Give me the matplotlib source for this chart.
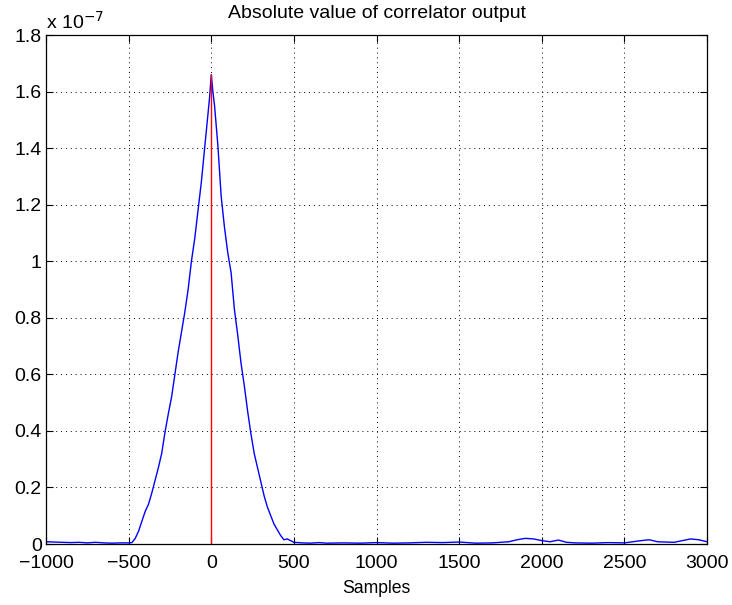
import matplotlib
matplotlib.use("Agg")
import matplotlib.pyplot as plt
from matplotlib.ticker import FuncFormatter

plt.rcParams['font.family'] = ['Liberation Sans', 'DejaVu Sans']

SCALE = 1e-7

# correlator magnitude (in units of 1e-7) versus sample lag
lags = [-1000, -950, -900, -850, -800, -750, -700, -650, -600, -550, -500, -480,
        -460, -440, -420, -400, -380, -360, -340, -320, -300, -280, -260, -240,
        -220, -200, -180, -160, -140, -120, -100, -80, -60, -40, -20, -10, 0,
        10, 20, 40, 60, 80, 100, 120, 140, 160, 180, 200, 220, 240, 260, 280,
        300, 320, 340, 360, 380, 400, 420, 440, 460, 480, 500, 550, 600, 650,
        700, 800, 900, 1000, 1100, 1200, 1300, 1400, 1500, 1600, 1700, 1800,
        1850, 1900, 1950, 2000, 2050, 2100, 2150, 2200, 2300, 2400, 2500, 2600,
        2650, 2700, 2800, 2850, 2900, 2950, 3000]
magnitude = [0.008, 0.007, 0.006, 0.005, 0.006, 0.004, 0.006, 0.004, 0.003, 0.004, 0.004, 0.005,
             0.02, 0.045, 0.08, 0.115, 0.14, 0.18, 0.225, 0.27, 0.32, 0.395, 0.46, 0.52,
             0.60, 0.68, 0.75, 0.82, 0.90, 1.00, 1.08, 1.18, 1.28, 1.40, 1.52, 1.58, 1.66,
             1.60, 1.55, 1.41, 1.23, 1.12, 1.03, 0.96, 0.83, 0.74, 0.64, 0.56, 0.47, 0.39, 0.32, 0.27,
             0.22, 0.17, 0.13, 0.10, 0.07, 0.05, 0.03, 0.015, 0.018, 0.012, 0.006, 0.004, 0.003, 0.005,
             0.003, 0.004, 0.003, 0.005, 0.003, 0.004, 0.006, 0.005, 0.007, 0.003, 0.004, 0.008,
             0.015, 0.02, 0.018, 0.012, 0.008, 0.014, 0.006, 0.004, 0.003, 0.005, 0.004, 0.012,
             0.015, 0.008, 0.006, 0.012, 0.018, 0.015, 0.008]

peak_lag = 0
peak_value = 1.66

fig = plt.figure(figsize=(7.32, 6.05), dpi=100)
ax = fig.add_axes([0.0628, 0.1008, 0.9032, 0.8412])

ax.plot(lags, [m * SCALE for m in magnitude], color='#0000ff', lw=1.0)
ax.plot([peak_lag, peak_lag], [0, peak_value * SCALE], color='#ff0000', lw=1.0)

ax.set_xlim(-1000, 3000)
ax.set_ylim(0, 1.8 * SCALE)
ax.set_xticks(range(-1000, 3001, 500))
ax.set_yticks([v * 0.2 * SCALE for v in range(10)])
ax.yaxis.set_major_formatter(FuncFormatter(lambda v, p: '%g' % round(v / SCALE, 2)))
ax.xaxis.set_major_formatter(FuncFormatter(lambda v, p: ('%d' % v).replace('-', '\u2212')))

ax.tick_params(direction='in', top=True, right=True, length=5, width=0.8,
               labelsize=14)
ax.tick_params(axis='x', pad=8)
ax.tick_params(axis='y', pad=3)
ax.grid(True, color='black', linestyle=(0, (1, 4)), linewidth=0.7)
for s in ax.spines.values():
    s.set_linewidth(0.9)

ax.text(0.0, 1.004, 'x 10$^{-7}$', transform=ax.transAxes, ha='left', va='bottom',
        fontsize=14)
ax.set_title('Absolute value of correlator output', fontsize=14, pad=12)
ax.set_xlabel('Samples', fontsize=12.7, labelpad=6)

fig.savefig('out.png', dpi=100)
